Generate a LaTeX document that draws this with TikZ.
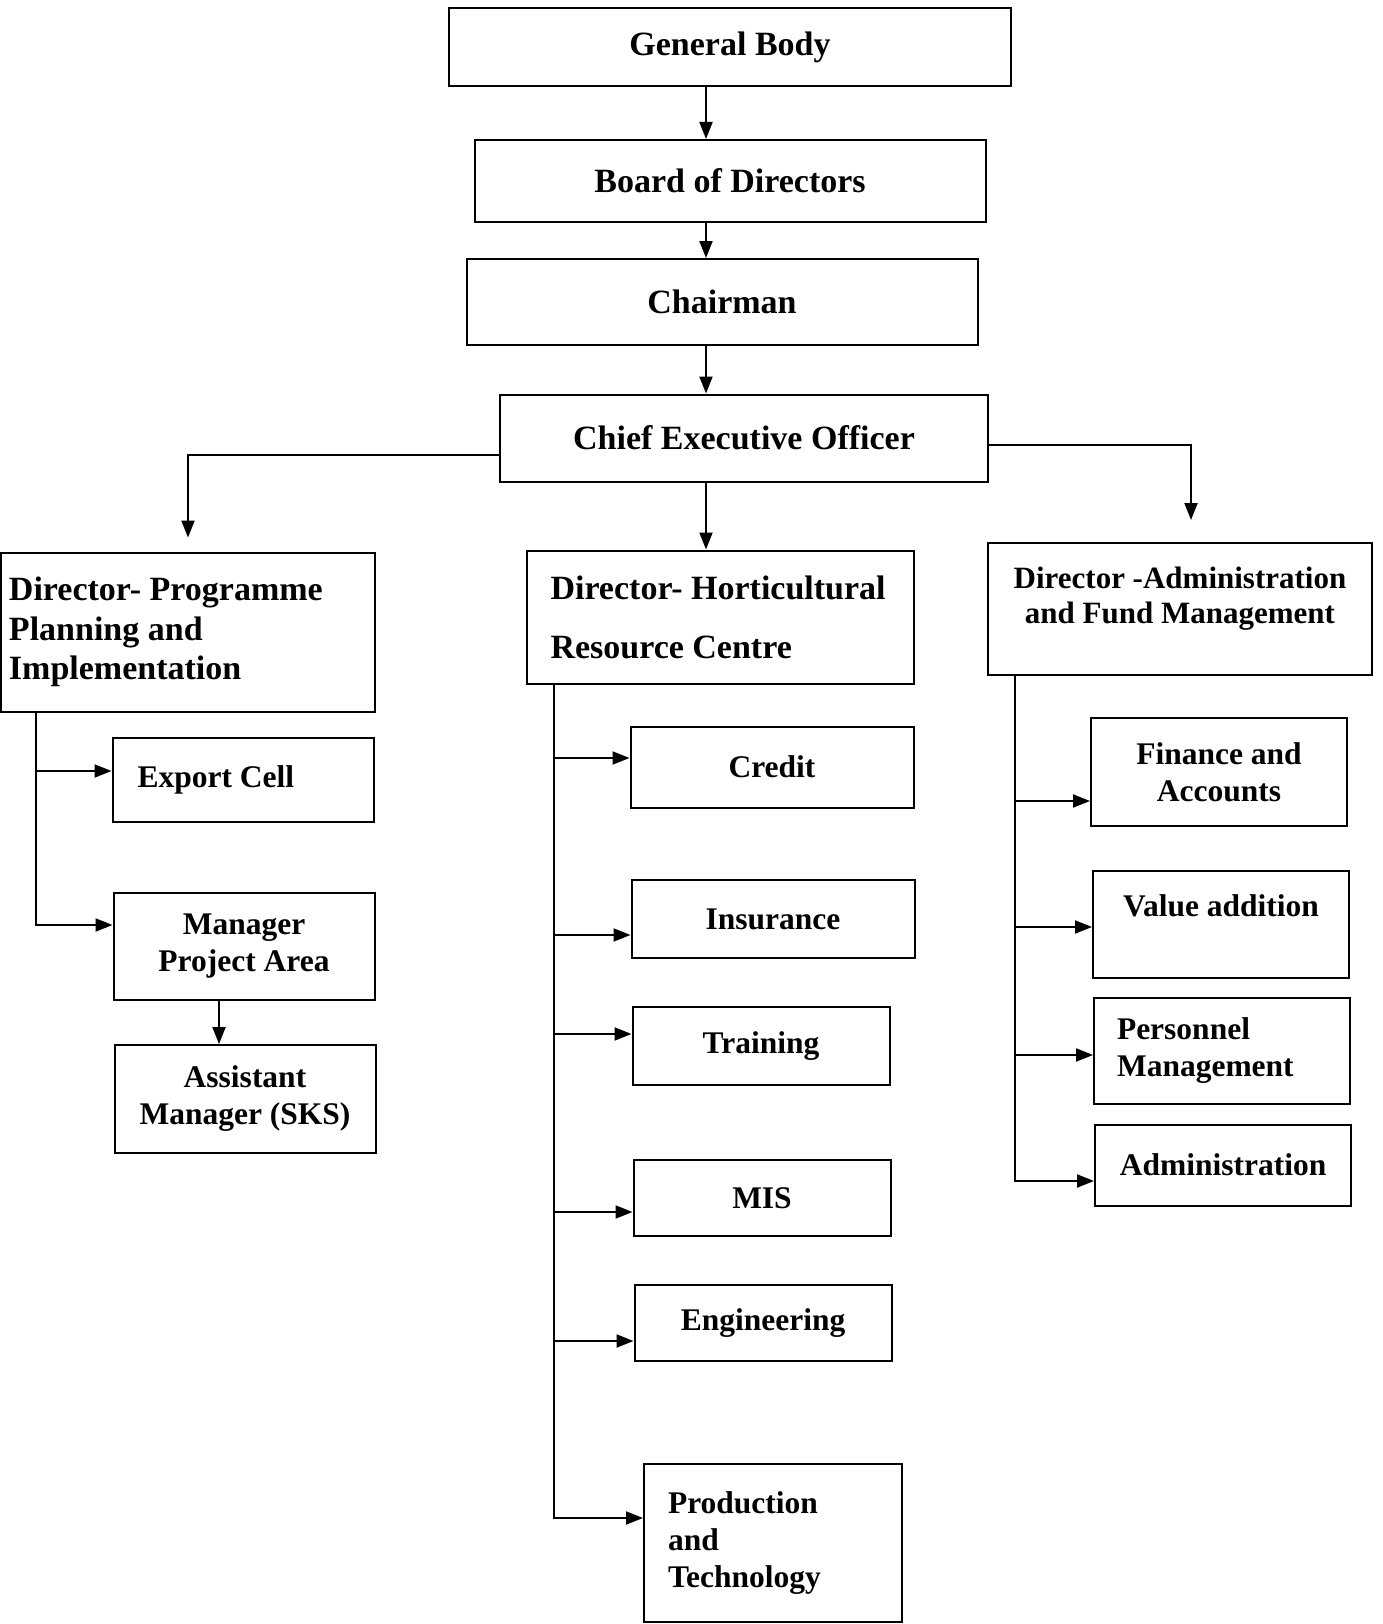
\documentclass[tikz,border=0pt]{standalone}
\usepackage{fontspec}
\setmainfont{Liberation Serif}
\usetikzlibrary{arrows.meta,calc,positioning}

\begin{document}
\begin{tikzpicture}[
    x=1pt, y=-1pt,
    every node/.style={
        font=\fontsize{31.5}{37}\selectfont\bfseries
    },
    box/.style={
        draw, line width=2pt,
        inner sep=0pt,
        align=center
    },
    lbox/.style={box, align=flush left},
    arr/.style={line width=2pt, -{Triangle[length=17pt,width=13pt]}},
    link/.style={line width=2pt}
]
\useasboundingbox (0,0) rectangle (1382,1624);

% top of the chart
\node[box, minimum width=562pt, minimum height=78pt, font=\fontsize{34}{37}\selectfont\bfseries] (gb) at (730,47) {General Body};
\node[box, minimum width=511pt, minimum height=82pt, font=\fontsize{34}{37}\selectfont\bfseries] (bod) at (730,181) {Board of Directors};
\node[box, minimum width=511pt, minimum height=86pt, font=\fontsize{34}{37}\selectfont\bfseries] (chair) at (722,302) {Chairman};
\node[box, minimum width=488pt, minimum height=87pt, font=\fontsize{34}{37}\selectfont\bfseries] (ceo) at (744,438) {Chief Executive Officer};

% directors
\node[lbox, minimum width=374pt, minimum height=159pt, text width=358pt,
      font=\fontsize{34}{39.5}\selectfont\bfseries] (ppi) at (188,632)
      {Director- Programme\\Planning and\\Implementation};
\node[lbox, minimum width=387pt, minimum height=133pt, text width=339pt,
      font=\fontsize{34}{59}\selectfont\bfseries] (hrc) at (720,617)
      {Director- Horticultural\\Resource Centre};
\node[box, minimum width=384pt, minimum height=132pt, text depth=28pt,
      font=\fontsize{31}{35}\selectfont\bfseries] (adm) at (1180,609)
      {Director -Administration\\and Fund Management};

% programme planning side
\node[lbox, minimum width=261pt, minimum height=84pt, text width=211pt] (export) at (243,780) {Export Cell};
\node[box, minimum width=261pt, minimum height=107pt] (mgr) at (244,946) {Manager\\Project Area};
\node[box, minimum width=261pt, minimum height=108pt] (asst) at (245,1099) {Assistant\\Manager (SKS)};

% resource centre side
\node[box, minimum width=283pt, minimum height=81pt] (credit) at (772,767) {Credit};
\node[box, minimum width=283pt, minimum height=78pt] (ins) at (773,919) {Insurance};
\node[box, minimum width=257pt, minimum height=78pt] (train) at (761,1046) {Training};
\node[box, minimum width=257pt, minimum height=76pt] (mis) at (762,1198) {MIS};
\node[box, minimum width=257pt, minimum height=76pt] (eng) at (763,1323) {Engineering};
\node[lbox, minimum width=258pt, minimum height=158pt, text width=210pt] (prod) at (773,1543)
      {Production\\and\\Technology};

% administration side
\node[box, minimum width=256pt, minimum height=108pt] (fin) at (1219,772) {Finance and\\Accounts};
\node[box, minimum width=256pt, minimum height=107pt, text depth=36pt] (val) at (1221,924) {Value addition};
\node[lbox, minimum width=256pt, minimum height=106pt, text width=210pt] (pers) at (1222,1051)
      {Personnel\\Management};
\node[box, minimum width=256pt, minimum height=81pt] (admin) at (1223,1165) {Administration};

% spine
\coordinate (spine) at (706,0);
\draw[arr] (gb.south -| spine) -- (bod.north -| spine);
\draw[arr] (bod.south -| spine) -- (chair.north -| spine);
\draw[arr] (chair.south -| spine) -- (ceo.north -| spine);
\draw[arr] (ceo.south -| spine) -- (hrc.north -| spine);
\draw[arr, shorten >=14pt] ($(ceo.west)+(0,17)$) -| (ppi.north);
\draw[arr, shorten >=22pt] ($(ceo.east)+(0,7)$) -| ($(adm.north)+(11,0)$);

% left trunk
\coordinate (ta) at (36,0);
\coordinate (e1) at ($(export.west)+(0,-9)$);
\coordinate (m1) at ($(mgr.west)+(0,-21)$);
\draw[arr] (ppi.south -| ta) |- (m1);
\draw[arr] (ta |- e1) -- (e1);
\coordinate (tm) at (219,0);
\draw[arr] (mgr.south -| tm) -- (asst.north -| tm);

% middle trunk
\coordinate (tb) at (554,0);
\coordinate (p1) at ($(prod.west)+(0,-25)$);
\draw[arr] (hrc.south -| tb) |- (p1);
\foreach \n/\d in {credit/-9, ins/16, train/-12, mis/14, eng/18}{
  \coordinate (b) at ($(\n.west)+(0,\d)$);
  \draw[arr] (tb |- b) -- (b);
}

% right trunk
\coordinate (tc) at (1015,0);
\coordinate (a1) at ($(admin.west)+(0,16)$);
\draw[arr] (adm.south -| tc) |- (a1);
\foreach \n/\d in {fin/29, val/3, pers/4}{
  \coordinate (b) at ($(\n.west)+(0,\d)$);
  \draw[arr] (tc |- b) -- (b);
}
\end{tikzpicture}
\end{document}
